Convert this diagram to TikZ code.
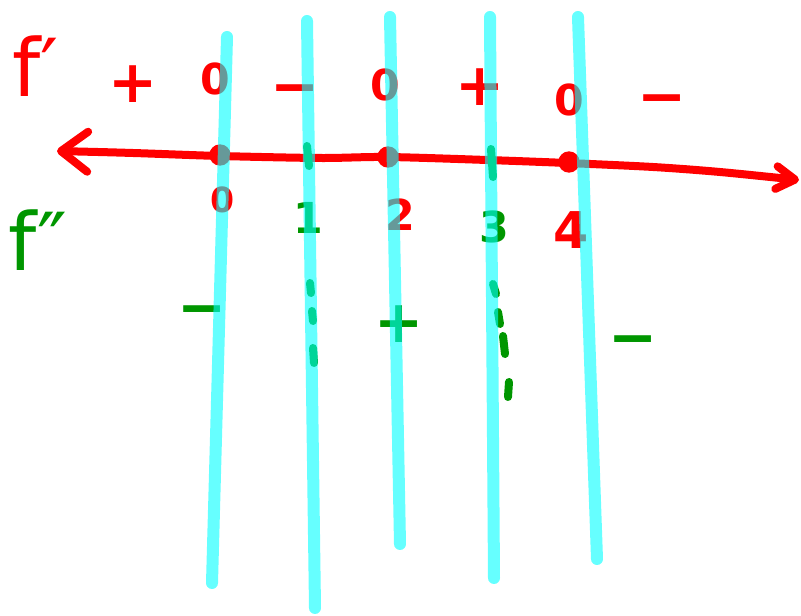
\documentclass[tikz,border=0pt]{standalone}
\usepackage{fontspec}
\setmainfont{DejaVu Sans}
\usetikzlibrary{arrows.meta}
\definecolor{pred}{RGB}{255,0,0}
\definecolor{pgreen}{RGB}{0,150,0}
\definecolor{pcyan}{RGB}{0,255,255}
\begin{document}
\begin{tikzpicture}[x=0.75pt,y=-0.75pt,
  axisline/.style={draw=pred,line width=6pt,line cap=round,line join=round},
  guide/.style={draw=pcyan,draw opacity=0.6,line width=9pt,line cap=round},
  gmark/.style={draw=pgreen,line width=6pt,line cap=round},
  dotnode/.style={circle,fill=pred,minimum size=16pt,inner sep=0pt},
  lab/.style={inner sep=0pt,font=\bfseries},
  rlab/.style={lab,text=pred},
  glab/.style={lab,text=pgreen},
  zsize/.style={font=\fontsize{32}{32}\selectfont\bfseries},
  psize/.style={font=\fontsize{44}{44}\selectfont\bfseries},
  fsize/.style={font=\fontsize{60}{60}\selectfont}]
\useasboundingbox (0,0) rectangle (801,616);

% function labels
\node[rlab,fsize] (fp) at (36,66) {f′};
\node[glab,fsize] (fpp) at (38,240) {f″};

% axis
\coordinate (L) at (57,151);
\coordinate (R) at (799,180);
\node[dotnode] (d0) at (220,155) {};
\node[dotnode] (d2) at (388,157) {};
\node[dotnode] (d4) at (569,162) {};
\draw[axisline,{Straight Barb[length=20pt,width=30pt,line cap=round,line join=round]}-{Straight Barb[length=14pt,width=17pt,line cap=round,line join=round]}]
  plot[smooth,tension=0.5] coordinates {(L) (133,153) (220,156) (320,158) (387,157) (487,160) (567,163) (653,167) (720,172) (R)};

% f' signs
\node[rlab,psize] (s1) at (133,84) {+};
\node[rlab,zsize] (z1) at (215,79) {0};
\node[rlab,psize] (s2) at (295,96) {−};
\node[rlab,zsize] (z2) at (385,85) {0};
\node[rlab,psize] (s3) at (480,87) {+};
\node[rlab,zsize] (z3) at (569,100) {0};
\node[rlab,psize] (s4) at (662,106) {−};

% x values
\node[rlab,font=\fontsize{26}{26}\selectfont\bfseries] (x0) at (223,200) {0};
\node[glab,zsize] (x1) at (308,218) {1};
\node[rlab,zsize] (x2) at (400,215) {2};
\node[glab,zsize] (x3) at (494,227) {3};
\node[rlab,font=\fontsize{38}{38}\selectfont\bfseries] (x4) at (571,230) {4};

% f'' signs
\node[glab,psize] (g1) at (202,317) {−};
\node[glab,psize] (g2) at (399,324) {+};
\node[glab,psize] (g3) at (633,347) {−};

% green ticks and dashes
\draw[gmark] (307,146) -- (309,166);
\draw[gmark] (491,149) -- (493,177);
\draw[gmark] (310,283) -- (311,293);
\draw[gmark] (312,311) -- (313,321);
\draw[gmark] (313,348) -- (314,363);
\draw[gmark] (493,284) -- (496,294);
\draw[gmark] (498,312) -- (500,324);
\draw[gmark] (503,336) -- (505,354);
\draw[gmark] (509,382) -- (508,397);

% cyan guide lines
\draw[guide] (227,37) -- (212,583);
\draw[guide] (307,21) -- (315,608);
\draw[guide] (390,17) -- (400,544);
\draw[guide] (490,17) -- (494,578);
\draw[guide] (578,17) -- (597,559);
\end{tikzpicture}
\end{document}
